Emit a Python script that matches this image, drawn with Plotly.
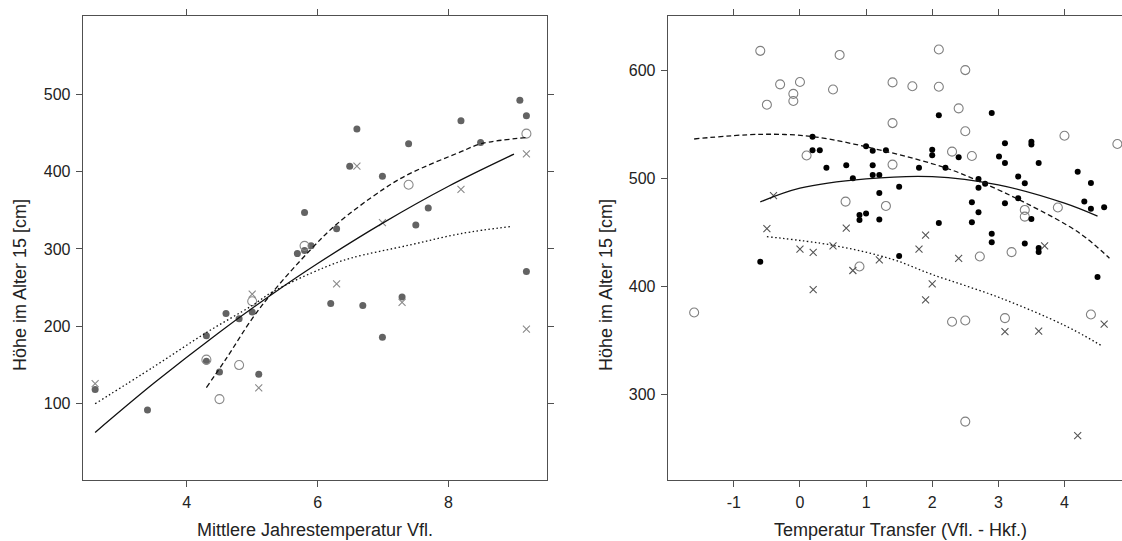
import plotly.graph_objects as go

# ---------------- Left panel data (Mittlere Jahrestemperatur Vfl.) ----------------
left_filled_x = [2.6, 3.4, 4.3, 4.3, 4.5, 4.6, 4.8, 5.0, 5.1, 5.69, 5.8, 5.8, 5.9, 6.2, 6.29,
                 6.49, 6.6, 6.69, 6.99, 6.99, 7.29, 7.39, 7.5, 7.69, 8.19, 8.49, 9.09, 9.19, 9.19]
left_filled_y = [118.5, 92, 188, 155, 141, 216.6, 209.7, 218.7, 138, 294, 298, 347, 304, 229.6, 326,
                 407, 455, 227, 394, 186, 238, 436, 331, 353, 465.5, 437.6, 492, 472, 271]

left_open_x = [4.3, 4.5, 4.8, 5.0, 5.8, 7.39, 9.19]
left_open_y = [157, 106, 150, 232.5, 304, 383, 449]

left_cross_x = [2.6, 5.0, 5.1, 6.29, 6.6, 6.99, 7.29, 8.19, 9.19, 9.19]
left_cross_y = [126, 241.6, 120.6, 255, 407, 334, 231, 377, 423, 196.4]

left_solid_x = [2.6, 3.5, 4.5, 5.32, 6.0, 7.0, 8.0, 9.0]
left_solid_y = [63, 126.7, 192.5, 242.5, 281.2, 333.7, 381.0, 422.5]

left_dash_x = [4.3, 4.6, 5.0, 5.32, 5.88, 6.29, 7.0, 7.4, 8.2, 8.5, 9.2]
left_dash_y = [121, 158, 210, 245, 298, 332, 377, 397, 426, 436, 444]

left_dot_x = [2.6, 3.5, 4.3, 5.0, 5.32, 6.1, 6.5, 7.4, 8.2, 8.95]
left_dot_y = [100, 148, 192, 227, 245, 276, 288, 305, 320, 329]

left_xticks = [4, 6, 8]
left_yticks = [100, 200, 300, 400, 500]

# ---------------- Right panel data (Temperatur Transfer) ----------------
right_open_x = [-0.6, -0.5, -0.3, -0.1, -0.1, 0.0, 0.6, 0.5, 0.1, 1.4, 1.7, 1.4, 1.4, 0.69, 1.3,
                2.1, 2.1, 2.5, 2.4, 2.5, 2.3, 2.6, 4.0, 4.8, 3.9, 3.4, 3.4, 2.72, 3.2,
                -1.6, 0.9, 2.3, 2.5, 3.1, 4.4, 2.5]
right_open_y = [617.8, 568, 586.8, 578, 571.4, 589, 614, 582, 521, 588.6, 585, 551, 512.6, 478.4, 474.4,
                619, 584.6, 600, 564.6, 543.4, 524.6, 520.6, 539.3, 531.7, 472.9, 470.7, 464.5, 427.6, 431.7,
                375.9, 418.4, 367.3, 368.5, 370.7, 374, 275]

right_filled_x = [0.19, 0.19, 0.3, 0.4, 0.7, 0.8, 1.0, 1.1, 1.1, 1.1, 1.2, 1.3, 1.2, 0.9, 0.9,
                  1.0, 1.2, 1.5, 1.8, 2.0, 2.0, 2.1, 2.2, 2.4, 2.1, 1.5, 2.7, 2.7, 2.8, 2.6,
                  2.7, 2.6, 2.9, 2.9, 2.9, 3.01, 3.1, 3.1, 3.1, 3.3, 3.3, 3.4, 3.5, 3.5, 3.61,
                  3.5, 3.4, 3.61, 3.61, 4.2, 4.3, 4.4, 4.4, 4.6, -0.6, 4.5]
right_filled_y = [538.4, 525.8, 525.8, 509.8, 512, 500, 529.5, 525.5, 512, 503, 503, 525.8, 486.4, 466, 461.5,
                  467.3, 461.8, 492.2, 509.8, 526.4, 521.2, 558.2, 509.8, 519.4, 458.7, 428, 499.4, 491.3, 495, 477.8,
                  468.6, 459.4, 560.3, 448.6, 440.9, 520, 532.3, 514.1, 476.9, 501.5, 481.5, 495.4, 533.8, 531.3, 514.1,
                  462.4, 439.6, 435.4, 431.7, 506.1, 478.4, 495.7, 471.7, 473.2, 422.7, 408.6]

right_cross_x = [-0.5, -0.4, 0.0, 0.2, 0.7, 0.5, 1.8, 1.9, 2.4, 3.7,
                 0.2, 0.8, 1.2, 1.9, 2.0, 3.1, 3.61, 4.6, 4.2]
right_cross_y = [453.5, 483.9, 434.5, 431.5, 453.8, 437.5, 434.4, 447.4, 426, 437.5,
                 397.1, 414.7, 424.6, 387.6, 402.4, 358.1, 358.7, 365.2, 262.1]

right_solid_x = [-0.6, 0.0, 1.0, 2.0, 3.0, 4.0, 4.5]
right_solid_y = [478.1, 490.8, 499.4, 501.5, 493.8, 476.9, 464.9]

right_dash_x = [-1.6, -0.6, 0.2, 1.31, 2.22, 2.72, 3.42, 4.23, 4.68]
right_dash_y = [536.3, 540.6, 538.4, 524.6, 509.2, 496.9, 476.9, 449.2, 426]

right_dot_x = [-0.5, 0.5, 1.4, 2.0, 3.0, 4.0, 4.58]
right_dot_y = [446, 438, 425, 411, 390, 364, 344.5]

right_xticks = [-1, 0, 1, 2, 3, 4]
right_xticklabels = ["-1", "0", "1", "2", "3", "4"]
right_yticks = [300, 400, 500, 600]

# ---------------- Figure ----------------
FONT = "Liberation Sans, Arial, sans-serif"
FRAME = "#505050"
fig = go.Figure()

def pts(x, y, xa, ya, symbol, color, size, lw=1.0):
    fig.add_trace(go.Scatter(
        x=x, y=y, mode="markers", xaxis=xa, yaxis=ya, showlegend=False,
        marker=dict(symbol=symbol, color=color, size=size,
                    line=dict(color=color, width=lw))))

def curve(x, y, xa, ya, dash, width=1.3):
    fig.add_trace(go.Scatter(
        x=x, y=y, mode="lines", xaxis=xa, yaxis=ya, showlegend=False,
        line=dict(color="#111111", width=width, dash=dash, shape="spline", smoothing=1.0)))

# left
pts(left_filled_x, left_filled_y, "x", "y", "circle", "#636363", 7, 0)
pts(left_open_x, left_open_y, "x", "y", "circle-open", "#8a8a8a", 9, 1.1)
pts(left_cross_x, left_cross_y, "x", "y", "x-thin", "#8a8a8a", 7, 1.1)
curve(left_solid_x, left_solid_y, "x", "y", "solid")
curve(left_dash_x, left_dash_y, "x", "y", "5px,3px")
curve(left_dot_x, left_dot_y, "x", "y", "1.5px,2.5px")

# right
pts(right_open_x, right_open_y, "x2", "y2", "circle-open", "#808080", 9, 1.1)
pts(right_filled_x, right_filled_y, "x2", "y2", "circle", "#000000", 6, 0)
pts(right_cross_x, right_cross_y, "x2", "y2", "x-thin", "#555555", 7, 1.1)
curve(right_solid_x, right_solid_y, "x2", "y2", "solid")
curve(right_dash_x, right_dash_y, "x2", "y2", "5px,3px")
curve(right_dot_x, right_dot_y, "x2", "y2", "1.5px,2.5px")

W, H = 1122, 541
ydom = [1 - 480 / H, 1 - 16 / H]

axis_common = dict(showgrid=False, zeroline=False, showline=True, linecolor=FRAME, linewidth=1,
                   ticks="outside", ticklen=6, tickcolor=FRAME, tickwidth=1,
                   tickfont=dict(family=FONT, size=16, color="#222222"),
                   ticklabelstandoff=2)

fig.update_layout(
    width=W, height=H, margin=dict(l=0, r=0, t=0, b=0),
    paper_bgcolor="white", plot_bgcolor="white",
    font=dict(family=FONT),
    xaxis=dict(axis_common, domain=[82.7 / W, 546.7 / W], range=[2.41, 9.50],
               tickvals=left_xticks, mirror="ticks", anchor="y"),
    yaxis=dict(axis_common, domain=ydom, range=[1.5, 601], tickvals=left_yticks,
               mirror="ticks", anchor="x"),
    xaxis2=dict(axis_common, domain=[667.7 / W, 1.0], range=[-2.0, 4.87],
                tickvals=right_xticks, ticktext=right_xticklabels, mirror="ticks", anchor="y2"),
    yaxis2=dict(axis_common, domain=ydom, range=[221, 650], tickvals=right_yticks,
                anchor="x2"),
    annotations=[
        dict(text="Mittlere Jahrestemperatur Vfl.", x=314.7 / W, y=1 - 530 / H, xref="paper", yref="paper",
             showarrow=False, font=dict(family=FONT, size=18, color="#222222"), xanchor="center", yanchor="middle"),
        dict(text="Temperatur Transfer (Vfl. - Hkf.)", x=900 / W, y=1 - 530 / H, xref="paper", yref="paper",
             showarrow=False, font=dict(family=FONT, size=18, color="#222222"), xanchor="center", yanchor="middle"),
        dict(text="Höhe im Alter 15 [cm]", x=20 / W, y=1 - 285 / H, xref="paper", yref="paper", textangle=-90,
             showarrow=False, font=dict(family=FONT, size=18, color="#222222"), xanchor="center", yanchor="middle"),
        dict(text="Höhe im Alter 15 [cm]", x=606 / W, y=1 - 285 / H, xref="paper", yref="paper", textangle=-90,
             showarrow=False, font=dict(family=FONT, size=18, color="#222222"), xanchor="center", yanchor="middle"),
    ],
)

fig.write_html("out.html", config={"displayModeBar": False},
               post_script="document.body.style.margin='0';document.body.style.overflow='hidden';")
